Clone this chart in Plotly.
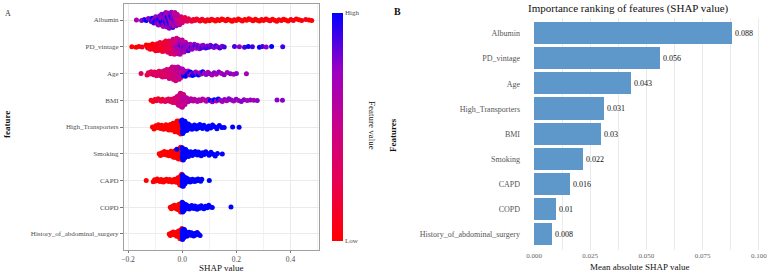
import numpy as np
import plotly.graph_objects as go

W, H = 767, 273
FONT = "Liberation Serif"

# ---------------- Panel A data (SHAP values in thousandths, feature values 0-9) ----------------
a_features = ["Albumin", "PD_vintage", "Age", "BMI", "High_Transporters",
              "Smoking", "CAPD", "COPD", "History_of_abdominal_surgery"]

albumin_shap = [-169, -150, -140, -133, -125,
                -118, -114, -111, -108, -105, -102, -100, -98, -96, -94,
                -92, -90, -88, -87, -85, -84, -82, -81, -79, -78,
                -76, -75, -74, -72, -71, -70, -69, -67, -66, -65,
                -64, -63, -62, -61, -60, -59, -58, -57, -56, -55,
                -54, -53, -52, -51, -50, -49, -48, -47, -46, -45,
                -44, -43, -42, -41, -40, -39, -38, -37, -36, -35,
                -34, -33, -32, -31, -30, -29, -28, -27, -26, -25,
                -24, -23, -22, -21, -20, -18, -17, -15, -14, -12,
                -10, -8, -6, -4, -2, 0, 3, 6, 10, 14,
                18, 23, 29, 35, 41, 47, 53, 60, 66, 73,
                79, 86, 93, 101, 108, 115, 123, 130, 138, 146,
                153, 161, 168, 177, 184, 192, 199, 207, 215, 222,
                231, 238, 246, 254, 261, 270, 277, 285, 293, 300,
                309, 317, 324, 333, 341, 349, 357, 366, 374, 382,
                391, 401, 410, 421, 431, 441, 456, 468, 478]
albumin_feat = [6, 7, 8, 9, 7,
                7, 8, 9, 7, 8, 6, 9, 7, 8, 7,
                6, 8, 7, 9, 6, 7, 8, 6, 7, 9,
                7, 6, 8, 7, 9, 6, 7, 6, 8, 7,
                6, 7, 9, 6, 7, 8, 6, 7, 6, 9,
                7, 6, 8, 7, 6, 9, 7, 6, 8, 7,
                6, 7, 9, 6, 7, 8, 6, 7, 6, 8,
                7, 6, 6, 8, 5, 6, 7, 5, 6, 6,
                5, 6, 7, 5, 6, 5, 4, 6, 5, 4,
                5, 4, 3, 4, 3, 4, 3, 3, 2, 3,
                3, 2, 2, 2, 1, 2, 1, 1, 1, 1,
                1, 0, 1, 0, 1, 0, 0, 1, 0, 0,
                0, 1, 0, 0, 0, 1, 0, 0, 0, 1,
                0, 0, 0, 1, 0, 0, 0, 0, 1, 0,
                0, 0, 1, 0, 0, 0, 0, 1, 0, 0,
                0, 0, 1, 0, 0, 0, 1, 0, 0]

pd_shap = [-186, -170, -160, -148,
           -133, -130, -127, -124, -121, -118, -115, -112, -110, -107,
           -105, -102, -100, -98, -96, -94, -92, -90, -88, -86,
           -84, -82, -80, -78, -77, -75, -73, -72, -70, -68,
           -67, -65, -64, -62, -61, -59, -58, -56, -55, -53,
           -52, -51, -49, -48, -47, -45, -44, -43, -41, -40,
           -39, -38, -37, -36, -35, -34, -33, -32, -31, -30,
           -29, -28, -27, -26, -25, -24, -23, -22, -21, -20,
           -19, -18, -17, -16, -15, -14, -13, -12, -11, -10,
           -9, -8, -7, -6, -5, -4, -3, -2, -1, 0,
           1, 2, 4, 5, 7, 8, 10, 12, 14, 16,
           18, 20, 22, 25, 27, 30, 33, 36, 39, 42,
           45, 48, 52, 56, 60, 64, 68, 72, 77, 82,
           87, 92, 98, 104, 110, 117, 124, 131, 139, 147,
           155,
           193, 211, 230, 244, 259, 285, 296, 310, 330, 371]
pd_feat = [0, 0, 0, 1,
           0, 0, 1, 0, 0, 1, 0, 1, 0, 0,
           1, 0, 1, 0, 2, 1, 0, 1, 2, 1,
           0, 2, 1, 1, 2, 0, 1, 2, 1, 2,
           1, 2, 0, 2, 1, 3, 2, 1, 2, 3,
           2, 1, 3, 2, 4, 2, 1, 3, 2, 3,
           3, 2, 4, 3, 2, 5, 3, 4, 2, 4,
           3, 5, 4, 3, 6, 4, 3, 5, 4, 6,
           5, 4, 6, 5, 4, 6, 5, 7, 4, 6,
           5, 6, 7, 5, 6, 8, 5, 7, 6, 5,
           6, 7, 5, 8, 6, 7, 6, 5, 7, 6,
           7, 6, 8, 6, 7, 6, 8, 7, 6, 7,
           7, 8, 6, 7, 8, 7, 6, 8, 7, 7,
           8, 7, 8, 7, 8, 7, 8, 7, 8, 7,
           8,
           8, 7, 8, 9, 8, 9, 8, 7, 9, 8]

age_shap = [-152,
            -130, -125, -120, -115, -110, -106, -102, -98, -95, -92,
            -89, -86, -83, -80, -78, -75, -73, -71, -69, -67,
            -65, -63, -61, -59, -57, -55, -53, -51, -50, -48,
            -47, -45, -44, -42, -41, -40, -38, -37, -36, -35,
            -34, -33, -32, -31, -30, -29, -28, -27, -26, -25,
            -24, -23, -22, -21, -20, -19, -18, -17, -16, -15,
            -14, -13, -12, -11, -10, -9, -8, -6, -5, -3,
            -1, 1, 3, 5, 7, 9, 12, 15, 18, 21,
            24, 27, 30, 34, 38, 42, 46, 50, 55, 60,
            65, 70, 76, 82, 88, 95, 102, 110, 118, 126,
            135, 145, 155, 166, 178, 190, 200,
            237]
age_feat = [3,
            2, 3, 2, 3, 2, 4, 3, 2, 3, 3,
            3, 2, 4, 3, 3, 4, 3, 2, 3, 4,
            3, 4, 3, 3, 4, 3, 4, 3, 3, 4,
            4, 3, 4, 3, 4, 4, 3, 5, 4, 3,
            4, 5, 4, 4, 5, 4, 3, 4, 5, 4,
            4, 5, 4, 5, 4, 4, 5, 4, 5, 5,
            5, 4, 5, 5, 4, 5, 6, 5, 4, 5,
            5, 6, 5, 9, 6, 5, 9, 6, 9, 6,
            9, 7, 9, 6, 9, 8, 9, 6, 7, 9,
            6, 7, 9, 6, 7, 6, 7, 6, 7, 6,
            7, 6, 7, 6, 7, 6, 7,
            6]

bmi_shap = [-115, -108, -101, -95, -89, -83, -78, -73, -68, -63,
            -59, -55, -51, -47, -44, -41, -38, -35, -33, -31,
            -29, -27, -25, -23, -21, -19, -18, -17, -16, -15,
            -14, -13, -12, -11, -10, -9, -8, -7, -7, -6,
            -6, -5, -5, -4, -4, -3, -3, -2, -2, -1,
            -1, 0, 0, 1, 1, 2, 2, 3, 4, 5,
            6, 7, 8, 9, 10, 12, 14, 16, 18, 21,
            24, 28, 32, 36, 40, 45, 50, 56, 62, 68,
            75, 82, 89, 96, 104, 111, 118, 126, 133, 140,
            148, 156, 164, 172, 181, 190, 199, 208, 218, 228,
            240, 252, 264, 277, 350, 370]
bmi_feat = [0, 1, 1, 2, 1, 2, 2, 1, 2, 3,
            2, 3, 2, 3, 3, 2, 3, 3, 4, 3,
            3, 4, 3, 4, 3, 4, 4, 3, 4, 4,
            4, 3, 4, 5, 4, 4, 5, 4, 3, 4,
            5, 4, 4, 5, 3, 4, 5, 4, 5, 4,
            4, 5, 4, 5, 4, 5, 4, 5, 5, 4,
            5, 4, 5, 6, 5, 5, 4, 5, 6, 5,
            5, 6, 5, 6, 5, 5, 6, 5, 6, 5,
            6, 5, 6, 6, 9, 7, 9, 6, 9, 7,
            6, 7, 6, 7, 7, 6, 7, 6, 7, 7,
            6, 7, 6, 7, 7, 7]

# binary features: SHAP values of the low (0) and high (1) groups
hightrans_low = [-110, -104, -98, -93, -88, -84, -80, -76, -72, -69, -66, -63, -60, -58,
                 -56, -54, -52, -50, -48, -46, -44, -42, -40, -38, -36, -34, -33, -31,
                 -30, -29, -27, -26, -25, -24, -23, -22, -21, -20, -19, -18, -17, -16,
                 -15, -14, -13, -12, -11, -10, -9, -8, -7, -6, -5, -4, -3, -2, -1, -1]
hightrans_high = [-4, 0, 0, 1, 1, 2, 2, 3, 4, 5, 6, 7, 8, 9, 10, 11, 12, 14, 15, 17,
                  19, 21, 23, 25, 27, 30, 33, 36, 39, 42, 45, 49, 53, 57, 61, 65, 70,
                  75, 80, 86, 92, 98, 105, 112, 120, 128, 137, 146, 155, 186, 210]
smoking_low = [-85, -80, -75, -70, -66, -62, -58, -55, -52, -49, -46, -44, -42, -40,
               -38, -36, -34, -32, -30, -28, -27, -25, -24, -22, -21, -19, -18, -16,
               -15, -14, -13, -12, -11, -10, -9, -8, -7, -6, -5, -4, -3, -2, -1, -1]
smoking_high = [-20, 0, 0, 1, 1, 2, 3, 4, 5, 6, 7, 8, 9, 10, 12, 13, 15, 17, 19, 21,
                23, 25, 28, 31, 34, 37, 40, 44, 48, 52, 56, 60, 65, 70, 75, 81, 87,
                93, 99, 106, 114, 122, 130, 148]
capd_low = [-133, -107, -102, -97, -92, -87, -82, -78, -74, -70, -66, -62, -58, -54,
            -50, -46, -42, -38, -34, -31, -28, -25, -22, -20, -18, -16, -14, -12,
            -11, -10, -9, -8, -7, -6, -5, -4, -3, -2, -2, -1, -1]
capd_high = [0, 0, 0, 1, 1, 1, 2, 2, 3, 3, 4, 5, 6, 7, 8, 10, 12, 14, 16, 18, 20,
             23, 26, 29, 32, 35, 38, 42, 46, 50, 54, 58, 63, 68, 72, 100]
copd_low = [-44, -40, -36, -32, -29, -26, -23, -21, -19, -17, -15, -13, -12, -10,
            -9, -8, -7, -6, -5, -4, -3, -2, -1, -1]
copd_high = [0, 0, 0, 1, 1, 2, 2, 3, 4, 5, 6, 7, 9, 11, 13, 15, 17, 20, 23, 26, 29,
             32, 35, 39, 43, 47, 51, 55, 60, 65, 70, 75, 80, 86, 92, 98, 104, 111, 180]
history_low = [-48, -44, -40, -36, -33, -30, -27, -24, -22, -20, -18, -16, -14, -12,
               -11, -10, -9, -8, -7, -6, -5, -4, -3, -2, -1, -1]
history_high = [0, 0, 0, 1, 1, 2, 2, 3, 4, 5, 6, 7, 8, 9, 11, 13, 15, 17, 19, 22, 25,
                28, 31, 34, 38, 42, 46, 50, 55, 60, 66]

# ---------------- Panel B data ----------------
b_features = ["Albumin", "PD_vintage", "Age", "High_Transporters", "BMI",
              "Smoking", "CAPD", "COPD", "History_of_abdominal_surgery"]
b_values = [0.088, 0.056, 0.043, 0.031, 0.03, 0.022, 0.016, 0.01, 0.008]
b_ticks = [0.0, 0.025, 0.05, 0.075, 0.1]

# ---------------- helpers ----------------
ROW_PX = 246 / 9.2


def px_x(p):
    return p / W


def px_y(p):
    return 1 - p / H


def sina(vals, half_px, bw, floor_px):
    x = np.asarray(vals, float) / 1000
    d = np.exp(-0.5 * ((x[:, None] - x[None, :]) / bw) ** 2).sum(1)
    d = d / d.max()
    order = np.argsort(x, kind="stable")
    u = np.empty(len(x))
    u[order] = ((np.arange(len(x)) * 0.6180339887 + 0.5) % 1) * 2 - 1
    # isolated points (outliers) stay on the centre line
    iso = d * d.max() < 0  # placeholder False array
    spread = np.maximum(d * half_px, floor_px)
    counts = (np.abs(x[:, None] - x[None, :]) < 0.012).sum(1)
    spread = np.where(counts <= 2, d * half_px, spread)
    return u * spread / ROW_PX


continuous = {
    "Albumin": (albumin_shap, albumin_feat, 8.5, 0.012, 1.2),
    "PD_vintage": (pd_shap, pd_feat, 8.5, 0.012, 1.5),
    "Age": (age_shap, age_feat, 7.5, 0.011, 1.8),
    "BMI": (bmi_shap, bmi_feat, 7.5, 0.008, 1.5),
}
binary = {
    "High_Transporters": (hightrans_low, hightrans_high, 7.5, 0.009, 2.5),
    "Smoking": (smoking_low, smoking_high, 7.0, 0.008, 2.3),
    "CAPD": (capd_low, capd_high, 6.5, 0.007, 1.6),
    "COPD": (copd_low, copd_high, 5.5, 0.007, 2.0),
    "History_of_abdominal_surgery": (history_low, history_high, 6.0, 0.007, 2.0),
}

xs, ys, cs = [], [], []
n_feat = len(a_features)
for i, name in enumerate(a_features):
    ypos = n_feat - i
    if name in continuous:
        vals, feat, half, bw, flo = continuous[name]
        assert len(vals) == len(feat), (name, len(vals), len(feat))
        col = [f / 9 for f in feat]
    else:
        low, high, half, bw, flo = binary[name]
        vals = list(low) + list(high)
        col = [0.0] * len(low) + [1.0] * len(high)
    off = sina(vals, half, bw, flo)
    xs += [v / 1000 for v in vals]
    ys += list(ypos + off)
    cs += col

colorscale = [[0, "#FF0000"], [0.25, "#E8004F"], [0.5, "#C90089"],
              [0.75, "#9A00C3"], [1, "#0000FF"]]

fig = go.Figure()
fig.add_trace(go.Scatter(
    x=xs, y=ys, mode="markers", xaxis="x", yaxis="y", hoverinfo="skip",
    marker=dict(size=5, color=cs, colorscale=colorscale, cmin=0, cmax=1,
                line=dict(width=0), showscale=True,
                colorbar=dict(x=px_x(332), xanchor="left", xpad=0, ypad=0,
                              y=px_y(127), yanchor="middle", len=228 / H,
                              lenmode="fraction", thickness=11,
                              thicknessmode="pixels", outlinewidth=0,
                              tickvals=[0, 1], ticktext=["Low", "High"],
                              ticks="", ticklabelposition="outside",
                              tickfont=dict(family=FONT, size=7, color="#4D4D4D"))),
    showlegend=False))

b_pos = [len(b_features) - i for i in range(len(b_features))]
fig.add_trace(go.Bar(
    x=b_values, y=b_pos, orientation="h", xaxis="x2", yaxis="y2",
    marker=dict(color="#5E97C9", line=dict(width=0)), width=0.88,
    text=[str(v) for v in b_values], textposition="outside",
    constraintext="none", cliponaxis=False,
    textfont=dict(family=FONT, size=8, color="#111111"),
    outsidetextfont=dict(family=FONT, size=8, color="#111111"),
    hoverinfo="skip", showlegend=False))

grid = "#EBEBEB"
fig.update_layout(
    width=W, height=H, margin=dict(l=0, r=0, t=0, b=0, autoexpand=False),
    paper_bgcolor="white", plot_bgcolor="white",
    font=dict(family=FONT, color="#4D4D4D"),
    xaxis=dict(domain=[px_x(124), px_x(319)], range=[-0.215, 0.505],
               tickvals=[-0.2, 0, 0.2, 0.4], tickformat=".1f",
               ticks="outside", ticklen=2, tickcolor="#777",
               tickfont=dict(family=FONT, size=7.5, color="#4D4D4D"),
               showgrid=True, gridcolor=grid, gridwidth=1, zeroline=False,
               minor=dict(dtick=0.1, tick0=0, showgrid=True, gridcolor="#F2F2F2"),
               showline=True, mirror=True, linecolor="#A0A0A0", linewidth=1,
               anchor="y", automargin=False),
    yaxis=dict(domain=[px_y(250), px_y(4)], range=[0.4, 9.6],
               tickvals=list(range(n_feat, 0, -1)), ticktext=a_features,
               ticks="outside", ticklen=3, tickcolor="#777",
               tickfont=dict(family=FONT, size=7, color="#4D4D4D"),
               showgrid=True, gridcolor=grid, zeroline=False,
               showline=True, mirror=True, linecolor="#A0A0A0", linewidth=1,
               anchor="x", automargin=False),
    xaxis2=dict(domain=[px_x(534), 1.0], range=[0, 0.1036],
                tickvals=b_ticks, tickformat=".3f", ticks="",
                ticklabeloverflow="allow",
                tickfont=dict(family=FONT, size=7, color="#666666"),
                showgrid=True, gridcolor=grid, zeroline=False,
                minor=dict(dtick=0.0125, tick0=0, showgrid=True, gridcolor=grid),
                showline=False, anchor="y2", automargin=False),
    yaxis2=dict(domain=[px_y(249.6), px_y(18.4)], range=[0.4, 9.6],
                tickvals=b_pos, ticktext=b_features, ticks="",
                ticklabelstandoff=13,
                tickfont=dict(family=FONT, size=8, color="#555555"),
                showgrid=False, zeroline=False, showline=False, anchor="x2",
                automargin=False),
    bargap=0,
)

ann = [
    dict(text="A", x=8, y=13, size=8, color="#333333"),
    dict(text="<b>B</b>", x=397, y=12, size=10, color="#111111"),
    dict(text="<b>feature</b>", x=7, y=125, size=9, color="#111111", angle=-90),
    dict(text="SHAP value", x=221, y=268, size=9, color="#111111"),
    dict(text="Feature value", x=372, y=125, size=9, color="#111111", angle=90),
    dict(text="Importance ranking of features (SHAP value)", x=628, y=9, size=11,
         color="#111111"),
    dict(text="<b>Features</b>", x=393, y=135, size=9, color="#111111", angle=-90),
    dict(text="Mean absolute SHAP value", x=639, y=267, size=9, color="#111111"),
]
for a in ann:
    fig.add_annotation(text=a["text"], x=px_x(a["x"]), y=px_y(a["y"]),
                       xref="paper", yref="paper", showarrow=False,
                       xanchor="center", yanchor="middle",
                       textangle=a.get("angle", 0),
                       font=dict(family=FONT, size=a["size"], color=a["color"]))

fig.write_html("out.html")
